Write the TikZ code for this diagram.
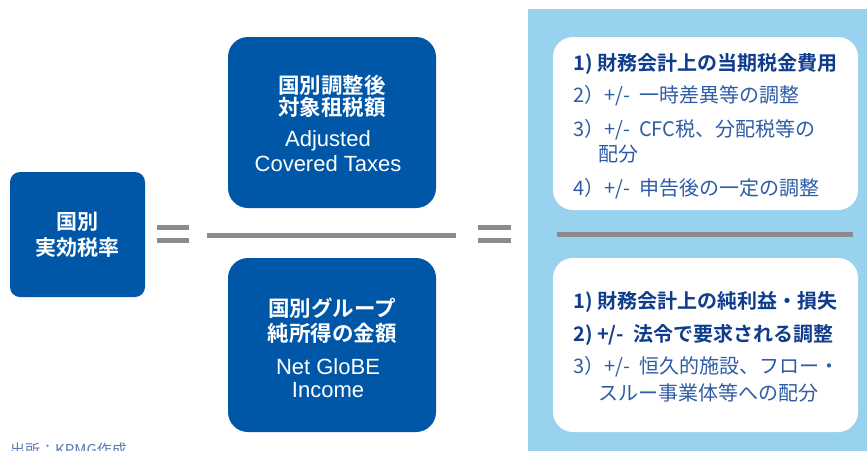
\documentclass[tikz,border=0pt]{standalone}
\usepackage{fontspec}
\newfontfamily\jp{Noto Sans CJK JP}[BoldFont={Noto Sans CJK JP Bold}]
\newfontfamily\lat{Liberation Sans}
\definecolor{boxblue}{HTML}{0057A7}
\definecolor{panelblue}{HTML}{98D2EF}
\definecolor{bargray}{HTML}{8B8B8B}
\definecolor{navy}{HTML}{0F3C8C}
\definecolor{midblue}{HTML}{2E5CA6}
\definecolor{srcblue}{HTML}{5B7DB5}
\tikzset{
  bluebox/.style={fill=boxblue, inner sep=0pt, rounded corners=#1},
  bluebox/.default=20pt,
  whitebox/.style={fill=white, inner sep=0pt, rounded corners=20pt},
  bar/.style={fill=bargray},
  jpw/.style={text=white, inner sep=0pt, anchor=base, font=\jp\bfseries\fontsize{21.5}{24}\selectfont},
  enw/.style={text=white, inner sep=0pt, anchor=base, font=\lat\fontsize{22}{24}\selectfont},
  itemb/.style={text=navy, inner sep=0pt, anchor=base west, font=\jp\bfseries\fontsize{20}{24}\selectfont},
  itemr/.style={text=midblue, inner sep=0pt, anchor=base west, font=\jp\fontsize{20}{24}\selectfont},
}
\begin{document}
\begin{tikzpicture}[x=1pt,y=-1pt]
\useasboundingbox (0,0) rectangle (867,450);
\fill[white] (0,0) rectangle (867,450);
% right panel
\fill[panelblue] (528,9) rectangle (867,470);
% left box
\node[bluebox=10pt, minimum width=135pt, minimum height=125pt] (rate) at (77.5,234.5) {};
\node[jpw, font=\jp\bfseries\fontsize{21}{24}\selectfont] (rate1) at (77.5,229.7) {国別};
\node[jpw, font=\jp\bfseries\fontsize{21}{24}\selectfont] (rate2) at (77.5,255.3) {実効税率};
% equals 1
\fill[bar] (157,225) rectangle (189,230);
\fill[bar] (157,238) rectangle (189,243);
% fraction line
\fill[bar] (207,233) rectangle (456,238);
% equals 2
\fill[bar] (478,225) rectangle (511,230);
\fill[bar] (478,238) rectangle (511,243);
% top box
\node[bluebox, minimum width=208pt, minimum height=171pt] (num) at (332,122.5) {};
\node[jpw] (num1) at (332,93) {国別調整後};
\node[jpw] (num2) at (332,115.5) {対象租税額};
\node[enw] (num3) at (328,146.7) {Adjusted};
\node[enw] (num4) at (328,171.7) {Covered Taxes};
% bottom box
\node[bluebox, minimum width=208pt, minimum height=174pt] (den) at (332,345) {};
\node[jpw] (den1) at (332,316) {国別グループ};
\node[jpw] (den2) at (332,341) {純所得の金額};
\node[enw] (den3) at (328,374) {Net GloBE};
\node[enw] (den4) at (328,397) {Income};
% right panel divider
\fill[bar] (557,232) rectangle (853,237);
% upper white box
\node[whitebox, minimum width=305pt, minimum height=173pt] (up) at (705.5,123.5) {};
\node[itemb] (u1) at (573,70) {1) 財務会計上の当期税金費用};
\node[itemr] (u2) at (573,102.6) {2）+/-\ \ 一時差異等の調整};
\node[itemr] (u3) at (573,136) {3）+/-\ \ CFC税、分配税等の};
\node[itemr] (u3b) at (598,161.6) {配分};
\node[itemr] (u4) at (573,195) {4）+/-\ \ 申告後の一定の調整};
% lower white box
\node[whitebox, minimum width=305pt, minimum height=174pt] (low) at (705.5,345) {};
\node[itemb] (l1) at (573,308.3) {1) 財務会計上の純利益・損失};
\node[itemb] (l2) at (573,341.6) {2) +/-\ \ 法令で要求される調整};
\node[itemr] (l3) at (573,373.3) {3）+/-\ \ 恒久的施設、フロー・};
\node[itemr] (l3b) at (598,400) {スルー事業体等への配分};
% source
\node[text=srcblue, inner sep=0pt, anchor=base west, font=\jp\fontsize{15}{18}\selectfont] (src) at (10,455) {出所：KPMG作成};
\end{tikzpicture}
\end{document}
